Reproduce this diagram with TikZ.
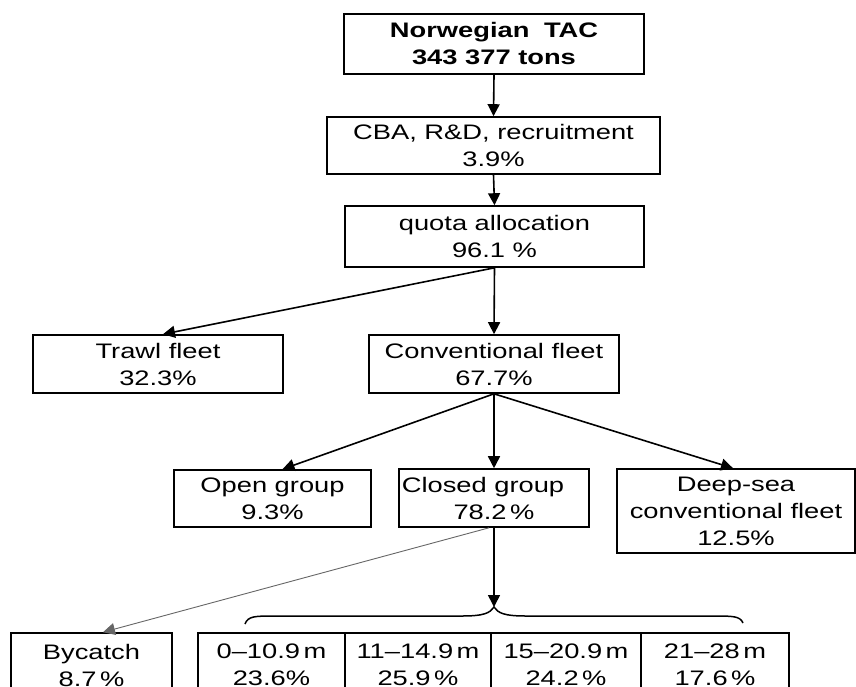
\documentclass[tikz,border=0pt]{standalone}
\usepackage{fontspec}
\setmainfont{Liberation Sans}[FakeStretch=1.3]
\usetikzlibrary{arrows.meta}
\begin{document}
\begin{tikzpicture}[x=1pt,y=-1pt,
  box/.style={draw=black, line width=1.6pt, fill=white, inner sep=0pt, align=center,
    font=\fontsize{21}{27}\selectfont},
  arr/.style={line width=1.6pt, -{Triangle[width=12pt,length=12pt]}},
  thinarr/.style={line width=0.9pt, draw=black!60, -{Triangle[width=12pt,length=12pt]}},
]
\useasboundingbox (0,0) rectangle (856,686);
\clip (0,0) rectangle (856,686);
\node[box, minimum width=300pt, minimum height=60pt] (tac) at (494,44) {\textbf{Norwegian\,\, TAC}\\\textbf{343 377 tons}};
\node[box, minimum width=333pt, minimum height=57pt] (cba) at (493.5,145.5) {CBA, R\&D, recruitment\\3.9\%};
\node[box, minimum width=299pt, minimum height=61pt] (quota) at (494.5,236.5) {quota allocation\\96.1 \%};
\node[box, minimum width=250pt, minimum height=58pt] (trawl) at (158,364) {Trawl fleet\\32.3\%};
\node[box, minimum width=250pt, minimum height=58pt] (conv) at (494,364) {Conventional fleet\\67.7\%};
\node[box, minimum width=197pt, minimum height=57pt] (open) at (272.5,498.5) {Open group\\9.3\%};
\node[box, minimum width=190pt, minimum height=58pt] (closed) at (494,498) {Closed group\hspace*{22pt}\\78.2\,\%};
\node[box, minimum width=238pt, minimum height=84pt] (deep) at (736,511) {Deep-sea\\conventional fleet\\12.5\%};
\node[box, minimum width=161pt, minimum height=64pt] (bycatch) at (91.5,665) {Bycatch\\8.7\,\%};
\node[box, minimum width=147pt, minimum height=64pt] (l1) at (271.5,665) {0--10.9\,m\\23.6\%};
\node[box, minimum width=146pt, minimum height=64pt] (l2) at (418,665) {11--14.9\,m\\25.9\,\%};
\node[box, minimum width=150pt, minimum height=64pt] (l3) at (566,665) {15--20.9\,m\\24.2\,\%};
\node[box, minimum width=148pt, minimum height=64pt] (l4) at (715,665) {21--28\,m\\17.6\,\%};
\coordinate (bt) at (494,607);
\draw[arr] (tac.south) -- (cba.north);
\draw[arr] (cba.south) -- (quota.north);
\draw[arr] (quota.south) -- ([xshift=5pt]trawl.north);
\draw[arr] (quota.south) -- (conv.north);
\draw[arr] (conv.south) -- ([xshift=10pt]open.north);
\draw[arr] (conv.south) -- (closed.north);
\draw[arr] (conv.south) -- ([xshift=-3pt]deep.north);
\draw[thinarr] ([xshift=-5pt]closed.south) -- ([xshift=11.5pt]bycatch.north);
\draw[arr] (closed.south) -- (bt);
\draw[line width=1.5pt] (245,624) .. controls (248,616) and (255,616) .. (275,616) -- (462,616)
  .. controls (484,616) and (490,613) .. (bt)
  .. controls (498,613) and (504,616) .. (526,616) -- (713,616)
  .. controls (733,616) and (740,616) .. (743,623);
\end{tikzpicture}
\end{document}
